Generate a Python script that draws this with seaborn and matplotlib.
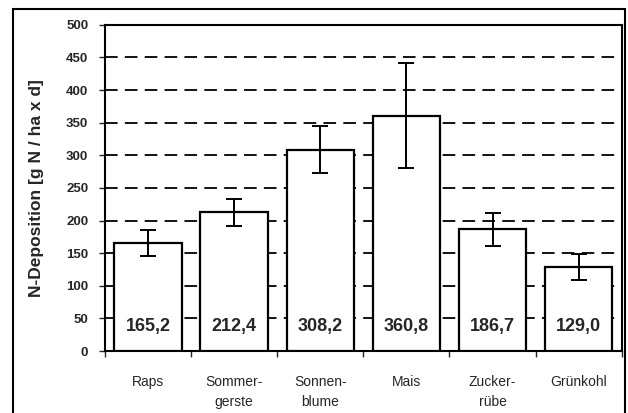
import matplotlib
matplotlib.use("Agg")
import matplotlib.pyplot as plt
import matplotlib.patches as patches
import seaborn as sns
import pandas as pd

# data
crops = ["Raps", "Sommer-\ngerste", "Sonnen-\nblume", "Mais", "Zucker-\nrübe", "Grünkohl"]
deposition = [165.2, 212.4, 308.2, 360.8, 186.7, 129.0]
errors = [20, 20, 36, 80, 25, 20]
value_labels = ["165,2", "212,4", "308,2", "360,8", "186,7", "129,0"]
y_ticks = [0, 50, 100, 150, 200, 250, 300, 350, 400, 450, 500]


def main():
    sns.set_style("white")
    plt.rcParams["font.family"] = ["Liberation Sans", "DejaVu Sans"]

    df = pd.DataFrame({"crop": crops, "value": deposition})

    fig = plt.figure(figsize=(6.28, 4.13), dpi=100)
    ax = fig.add_axes([0.167, 0.150, 0.823, 0.790])

    sns.barplot(data=df, x="crop", y="value", color="white", edgecolor="black",
                linewidth=1.6, width=0.78, errorbar=None, ax=ax, zorder=3)
    ax.errorbar(crops, deposition, yerr=errors, fmt="none", ecolor="black",
                elinewidth=1.4, capsize=6, capthick=1.4, zorder=4)

    for i, lab in enumerate(value_labels):
        ax.text(i, 38, lab, ha="center", va="center", fontsize=13,
                fontweight="bold", zorder=5)

    ax.set_ylim(0, 500)
    ax.set_xlim(-0.5, len(crops) - 0.5)
    ax.set_yticks(y_ticks)
    ax.set_yticklabels([str(t) for t in y_ticks], fontsize=9.5, fontweight="bold")
    for t in y_ticks[1:-1]:
        ax.axhline(t, color="black", lw=1.3, ls=(0, (7, 4)), zorder=1)

    ax.set_xticks(range(len(crops)))
    ax.set_xticklabels(crops, fontsize=10, linespacing=1.55)
    ax.set_xticks([i + 0.5 for i in range(-1, len(crops))], minor=True)
    ax.tick_params(axis="x", which="major", length=0, pad=17)
    ax.tick_params(axis="x", which="minor", length=4, width=1, direction="out",
                   bottom=True)
    ax.tick_params(axis="y", length=4, width=1, direction="out", left=True, pad=8)

    ax.set_xlabel("")
    ax.set_ylabel("N-Deposition [g N / ha x d]", fontsize=12.5, fontweight="bold",
                  labelpad=16)
    for s in ax.spines.values():
        s.set_visible(True)
        s.set_color("black")
        s.set_linewidth(1.5)

    # outer frame around the chart
    frame = patches.Rectangle((13 / 628, -0.01), 612 / 628, (413 - 9) / 413 + 0.01,
                              transform=fig.transFigure, fill=False,
                              edgecolor="black", linewidth=1.5)
    fig.patches.append(frame)

    fig.savefig("out.png", dpi=100)


if __name__ == "__main__":
    main()
